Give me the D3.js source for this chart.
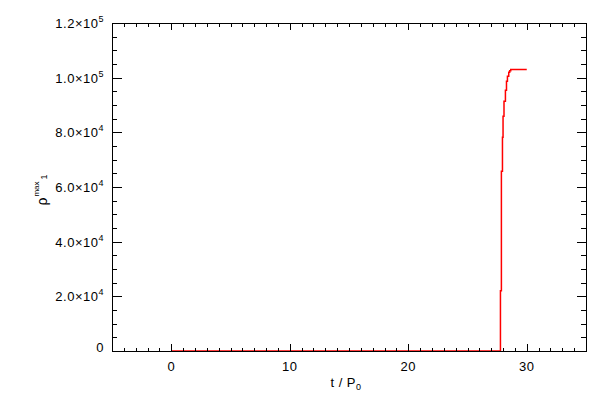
<!DOCTYPE html>
<html><head><meta charset="utf-8">
<script src="https://cdn.jsdelivr.net/npm/d3@7/dist/d3.min.js"></script>
<style>body{margin:0;background:#fff}svg{display:block}text{font-family:"Liberation Sans",Arial,sans-serif;fill:#000}</style>
</head><body>
<script>
// Data
const tValues   = [0, 27.78, 27.86, 27.95, 28.0, 28.08, 28.2, 28.29, 28.37, 28.48, 28.56, 28.65, 30.0];
const rhoValues = [0, 22000, 65800, 78200, 85900, 91400, 95400, 98700, 100500, 102000, 102500, 103000, 103000];
const xMajorTicks = [0, 10, 20, 30];
const yTickMantissa = ["0", "2.0", "4.0", "6.0", "8.0", "1.0", "1.2"];
const yTickExponent = ["", "4", "4", "4", "4", "5", "5"];
const yTickValues = [0, 20000, 40000, 60000, 80000, 100000, 120000];

const W = 600, H = 400;
const L = 112, R = 586, T = 23, B = 351;
const svg = d3.select("body").append("svg").attr("width", W).attr("height", H);
svg.append("rect").attr("width", W).attr("height", H).attr("fill", "#fff");

const x = d3.scaleLinear().domain([-5, 35]).range([L, R]);
const y = d3.scaleLinear().domain([0, 120000]).range([B, T]);

// data line
const data = tValues.map((t, i) => ({t, v: rhoValues[i]}));
svg.append("path").datum(data)
  .attr("fill", "none").attr("stroke", "#ff0000").attr("stroke-width", 1.5)
  .attr("d", d3.line().x(d => x(d.t)).y(d => y(d.v)).curve(d3.curveStepAfter));

// frame
const g = svg.append("g").attr("stroke", "#000").attr("stroke-width", 1).attr("fill", "none").attr("shape-rendering", "crispEdges");
g.append("rect").attr("x", L).attr("y", T).attr("width", R - L).attr("height", B - T);

const xMinor = d3.range(-5, 36, 1);
const yMinor = d3.range(0, 120001, 5000);
xMinor.forEach(v => {
  const major = v % 10 === 0;
  const len = major ? 7 : 3.5;
  const px = Math.round(x(v)) + 0.5;
  g.append("line").attr("x1", px).attr("x2", px).attr("y1", B).attr("y2", B - len);
  g.append("line").attr("x1", px).attr("x2", px).attr("y1", T).attr("y2", T + len);
});
yMinor.forEach(v => {
  const major = v % 20000 === 0;
  const len = major ? 9.5 : 5;
  const py = Math.round(y(v)) + 0.5;
  g.append("line").attr("x1", L).attr("x2", L + len).attr("y1", py).attr("y2", py);
  g.append("line").attr("x1", R).attr("x2", R - len).attr("y1", py).attr("y2", py);
});

// x tick labels
xMajorTicks.forEach(v => {
  svg.append("text").attr("x", x(v)).attr("y", 371).attr("text-anchor", "middle")
    .attr("font-size", 13).attr("letter-spacing", 0.5).text(v);
});

// y tick labels
yTickValues.forEach((v, i) => {
  const t = svg.append("text").attr("x", 104).attr("y", v === 0 ? y(v) + 1 : y(v) + 5)
    .attr("text-anchor", "end").attr("font-size", 13).attr("letter-spacing", 0.5);
  if (yTickExponent[i] === "") {
    t.text(yTickMantissa[i]);
  } else {
    t.append("tspan").text(yTickMantissa[i] + "\u00D710");
    t.append("tspan").attr("font-size", 9).attr("dy", -6).text(yTickExponent[i]);
  }
});

// x axis title
const xt = svg.append("text").attr("x", 346).attr("y", 387).attr("text-anchor", "middle")
  .attr("font-size", 13).attr("letter-spacing", 0.5);
xt.append("tspan").text("t / P");
xt.append("tspan").attr("font-size", 9).attr("dy", 3).text("0");

// y axis title
const yt = svg.append("text").attr("transform", "translate(47,190) rotate(-90)")
  .attr("text-anchor", "middle").attr("font-size", 14);
yt.append("tspan").text("\u03C1");
yt.append("tspan").attr("font-size", 8).attr("dy", -8).attr("dx", 1).text("max");
yt.append("tspan").attr("font-size", 9).attr("dy", 8).attr("dx", 2).text("1");
</script>
</body></html>
